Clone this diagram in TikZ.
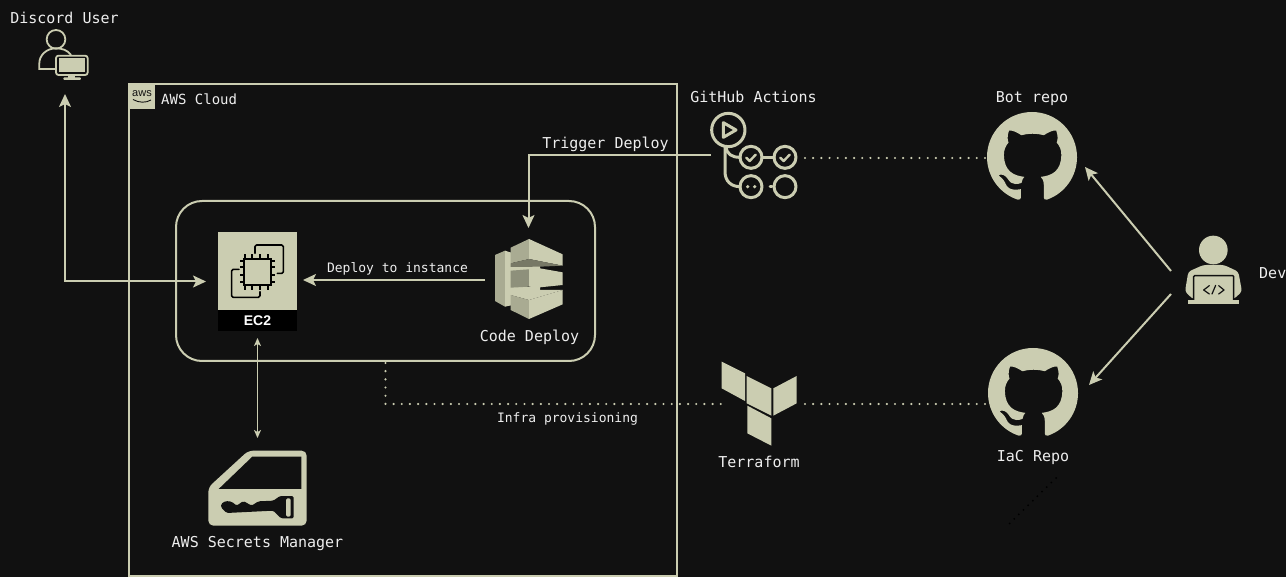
\documentclass[tikz,border=0pt]{standalone}
\usepackage{fontspec}
\setmainfont{DejaVu Sans Mono}
\newfontfamily\labelsans{Liberation Sans}
\usetikzlibrary{arrows.meta,svg.path,calc}
\definecolor{bgc}{HTML}{111111}
\definecolor{ink}{HTML}{CBCDB1}
\definecolor{midc}{HTML}{A9AB92}
\definecolor{darkc}{HTML}{777866}
\definecolor{sidec}{HTML}{8E907B}
\definecolor{txt}{HTML}{EEEEEE}
\newcommand{\ghfill}{\fill[ink] svg {M 8 0 C 3.58 0 0 3.58 0 8 c 0 3.54 2.29 6.53 5.47 7.59 0.4 0.07 0.55 -0.17 0.55 -0.38 0 -0.19 -0.01 -0.82 -0.01 -1.49 -2.01 0.37 -2.53 -0.49 -2.69 -0.94 -0.09 -0.23 -0.48 -0.94 -0.82 -1.13 -0.28 -0.15 -0.68 -0.52 -0.01 -0.53 0.63 -0.01 1.08 0.58 1.23 0.82 0.72 1.21 1.87 0.87 2.42 0.66 0.07 -0.52 0.28 -0.87 0.51 -1.07 -1.78 -0.2 -3.64 -0.89 -3.64 -3.95 0 -0.87 0.31 -1.59 0.82 -2.15 -0.08 -0.2 -0.36 -1.02 0.08 -2.12 0 0 0.67 -0.21 2.2 0.82 0.64 -0.18 1.32 -0.27 2 -0.27 0.68 0 1.36 0.09 2 0.27 1.53 -1.04 2.2 -0.82 2.2 -0.82 0.44 1.1 0.16 1.92 0.08 2.12 0.51 0.56 0.82 1.27 0.82 2.15 0 3.07 -1.87 3.75 -3.65 3.95 0.29 0.25 0.54 0.73 0.54 1.48 0 1.07 -0.01 1.93 -0.01 2.2 0 0.21 0.15 0.46 0.55 0.38 A 8.013 8.013 0 0 0 16 8 c 0 -4.42 -3.58 -8 -8 -8 z};}
\tikzset{
  x=1pt,y=-1pt,
  lab/.style={text=txt,inner sep=0pt,font=\fontsize{15}{15}\selectfont},
  smalllab/.style={text=txt,inner sep=0pt,font=\fontsize{13}{13}\selectfont},
  holder/.style={inner sep=0pt,outer sep=0pt,minimum width=#1},
  conn/.style={draw=ink,line width=2pt,-{Stealth[length=13pt,width=12pt,inset=3pt]}},
  conntwo/.style={draw=ink,line width=2pt,{Stealth[length=13pt,width=12pt,inset=3pt]}-{Stealth[length=13pt,width=12pt,inset=3pt]}},
  thinconn/.style={draw=ink,line width=1pt,{Stealth[length=8pt,width=7pt,inset=2pt]}-{Stealth[length=8pt,width=7pt,inset=2pt]}},
  dots/.style={draw=ink,line width=2.4pt,line cap=round,dash pattern=on 0pt off 8.18pt},
  zoomed/.style={shift={#1},scale=1/3},
  iconline/.style={draw=ink,line width=3pt,line cap=round,line join=round},
  darkline/.style={draw=bgc,line width=1.2pt,line cap=round,line join=round},
}
\begin{document}
\begin{tikzpicture}
\useasboundingbox (0,0) rectangle (1286,577);
\fill[bgc] (0,0) rectangle (1286,577);

% containers
\node[draw=ink,line width=2pt,minimum width=548pt,minimum height=492pt,inner sep=0pt] (cloud) at (403,330) {};
\node[draw=ink,line width=2pt,rounded corners=26pt,minimum width=419pt,minimum height=160pt,inner sep=0pt] (group) at (385.5,281) {};

% invisible holders for the icons
\node[holder=52pt,minimum height=50pt] (du) at (65,55) {};
\node[holder=79pt,minimum height=99pt] (ec2) at (257.5,281.5) {};
\node[holder=69pt,minimum height=84pt] (cd) at (528.5,280) {};
\node[holder=99pt,minimum height=75pt] (sm) at (257.5,488.5) {};
\node[holder=86pt,minimum height=86pt] (gha) at (754,155) {};
\node[holder=76pt,minimum height=84pt] (tf) at (759,404) {};
\node[holder=90pt,minimum height=90pt] (bot) at (1032,158) {};
\node[holder=90pt,minimum height=90pt] (iac) at (1033,393) {};
\node[holder=60pt,minimum height=68pt] (dev) at (1213,270) {};

% AWS tab
\fill[ink] (129,84) rectangle (155,109);
\node[inner sep=0pt,text=bgc,font=\labelsans\fontsize{11}{11}\selectfont] (awslogo) at (142,93.5) {aws};
\draw[bgc,line width=0.9pt] (133,99.5) .. controls (139,103) and (146,103) .. (151,100);

% Discord user icon
\begin{scope}[zoomed={(0,0)}]
  \draw[draw=ink,line width=1.8pt] (168,118) circle (28);
  \draw[draw=ink,line width=1.8pt] (168,207) -- (118,207) -- (118,190) .. controls (118,165) and (140,145) .. (168,145) .. controls (185,145) and (203,150) .. (213,165);
  \draw[draw=ink,line width=1.8pt,fill=bgc,rounded corners=2.5pt] (168,167) rectangle (263,225);
  \fill[ink] (177,175) rectangle (255,217);
  \fill[ink] (205,225) rectangle (226,233);
  \fill[ink,rounded corners=1pt] (190,232) rectangle (243,240);
\end{scope}

% EC2
\fill[ink] (218,232) rectangle (297,310);
\fill[black] (218,310) rectangle (297,331);
\begin{scope}[zoomed={(200,220)}]
  \draw[draw=black,line width=1.6pt,line join=round,line cap=round,rounded corners=1.5pt] (165,100) -- (165,75) -- (250,75) -- (250,160) -- (232,160);
  \draw[draw=black,line width=1.6pt,line join=round,line cap=round,rounded corners=1.5pt] (117,148) -- (95,148) -- (95,232) -- (180,232) -- (180,215);
  \draw[draw=black,line width=2pt,fill=ink] (132,117) rectangle (212,195);
  \foreach \p in {135,155,180,203}{
    \draw[draw=black,line width=1.8pt] (\p,103) -- (\p,117);
    \draw[draw=black,line width=1.8pt] (\p,195) -- (\p,209);
  }
  \foreach \p in {122,142,165,185}{
    \draw[draw=black,line width=1.8pt] (120,\p) -- (132,\p);
    \draw[draw=black,line width=1.8pt] (212,\p) -- (226,\p);
  }
\end{scope}
\node[inner sep=0pt,text=white,font=\labelsans\bfseries\fontsize{14}{14}\selectfont] (ec2lab) at (257.5,320.5) {EC2};

% CodeDeploy
\begin{scope}[zoomed={(490,235)}]
  \fill[midc] (15,60) -- (45,47) -- (45,215) -- (15,198) -- cycle;
  \fill[ink] (45,47) -- (64,53) -- (64,211) -- (45,215) -- cycle;
  \fill[ink] (60,88) -- (150,88) -- (150,102) -- (60,109) -- cycle;
  \fill[ink] (60,156) -- (150,155) -- (150,167) -- (60,182) -- cycle;
  \fill[midc] (62,38) -- (117,12) -- (117,72) -- (62,85) -- cycle;
  \fill[ink] (117,12) -- (218,58) -- (218,92) -- (117,72) -- cycle;
  \fill[darkc] (62,85) -- (117,72) -- (218,92) -- (150,95) -- (62,96) -- cycle;
  \fill[sidec] (62,107) -- (117,103) -- (117,155) -- (62,158) -- cycle;
  \fill[ink] (117,103) -- (150,100) -- (218,112) -- (218,150) -- (150,157) -- (117,155) -- cycle;
  \fill[ink] (62,180) -- (150,165) -- (218,165) -- (117,195) -- cycle;
  \fill[midc] (62,180) -- (117,195) -- (117,252) -- (62,225) -- cycle;
  \fill[ink] (117,195) -- (218,165) -- (218,208) -- (117,252) -- cycle;
\end{scope}

% Secrets Manager
\begin{scope}[zoomed={(190,430)}]
  \fill[ink,rounded corners=5pt]
    (55,172) -- (175,62) -- (350,62) -- (350,287) -- (55,287) -- cycle;
  \fill[bgc] (86,177) -- (187,80) -- (334,80) -- (334,177) -- cycle;
\end{scope}
\begin{scope}[zoomed={(205,490)}]
  \fill[bgc,rounded corners=1.5pt] (48,42) -- (62,33) -- (80,35) -- (95,47) -- (115,33) -- (140,47) -- (160,34) -- (205,32) -- (225,18) -- (266,18) -- (266,85) -- (228,85) -- (205,62) -- (65,69) -- (48,52) -- cycle;
  \fill[ink,rounded corners=1.5pt] (243,25) rectangle (257,80);
\end{scope}

% GitHub Actions
\begin{scope}[zoomed={(680,80)}]
  \draw[iconline] (145,150) circle (50);
  \draw[iconline] (130,128) -- (168,150) -- (130,172) -- cycle;
  \draw[iconline] (138,200) .. controls (140,222) and (155,232) .. (180,232);
  \draw[iconline] (135,200) -- (135,275) .. controls (135,305) and (155,320) .. (180,320);
  \draw[iconline] (213,232) circle (33);
  \draw[iconline] (315,232) circle (33);
  \draw[iconline] (213,320) circle (33);
  \draw[iconline] (315,320) circle (33);
  \draw[iconline] (246,232) -- (282,232);
  \draw[iconline] (270,320) -- (276,320);
  \draw[iconline,line width=2.4pt] (199,233) -- (209,243) -- (227,224);
  \draw[iconline,line width=2.4pt] (301,233) -- (311,243) -- (329,224);
  \fill[ink] (203,320) circle (5.5);
  \fill[ink] (224,320) circle (5.5);
\end{scope}

% Terraform
\begin{scope}[zoomed={(700,350)}]
  \fill[ink] (65,35) -- (135,70) -- (135,153) -- (65,115) -- cycle;
  \fill[ink] (140,78) -- (214,115) -- (214,197) -- (140,160) -- cycle;
  \fill[ink] (220,115) -- (290,78) -- (290,160) -- (220,197) -- cycle;
  \fill[ink] (142,167) -- (214,205) -- (214,287) -- (142,250) -- cycle;
\end{scope}

% GitHub marks
\begin{scope}[shift={(987,112)},xscale=5.625,yscale=-5.625]
  \ghfill
\end{scope}
\begin{scope}[shift={(988,348)},xscale=5.625,yscale=-5.625]
  \ghfill
\end{scope}

% Dev
\begin{scope}[zoomed={(970,90)}]
  \fill[ink] (730,480) circle (43);
  \fill[ink,rounded corners=3pt] (655,545) -- (700,525) -- (762,525) -- (805,545) -- (816,605) -- (790,628) -- (670,628) -- (645,605) -- cycle;
  \draw[draw=bgc,line width=1.4pt,fill=ink,rounded corners=1pt] (671,630) -- (671,557) -- (791,557) -- (791,630);
  \fill[ink] (655,630) rectangle (806,641);
  \draw[darkline] (718,587) -- (701,600) -- (718,612);
  \draw[darkline] (726,612) -- (737,586);
  \draw[darkline] (746,587) -- (762,600) -- (746,612);
\end{scope}

% labels
\node[lab] (lduser) at (64.5,18) {Discord User};
\node[lab,font=\fontsize{14}{14}\selectfont,anchor=west] (lcloud) at (161,99) {AWS Cloud};
\node[lab] (lgha) at (753.5,97) {GitHub Actions};
\node[lab] (ltrig) at (605.5,144) {Trigger Deploy};
\node[lab] (lbot) at (1032,99) {Bot repo};
\node[lab,anchor=west] (ldev) at (1259,273) {Dev};
\node[smalllab] (ldep) at (397.5,268.5) {Deploy to instance};
\node[lab] (lcd) at (529.5,337) {Code Deploy};
\node[smalllab] (linf) at (567.5,419) {Infra provisioning};
\node[lab] (ltf) at (759,462) {Terraform};
\node[lab] (liac) at (1033,457) {IaC Repo};
\node[lab] (lsm) at (257.5,544) {AWS Secrets Manager};

% connectors
\coordinate (dvA) at (1171,271);
\coordinate (dvB) at (1171,294);
\coordinate (botIn) at (1085,167);
\coordinate (iacIn) at (1089,385);
\coordinate (shA) at (1056,478);
\coordinate (shB) at (1009,524);
\draw[conntwo,shorten <=14pt,shorten >=12pt] (du.south) |- (ec2.west);
\draw[conn,shorten >=10pt] (gha.west) -| (cd.north);
\draw[conn,shorten <=9pt,shorten >=6pt] (cd.west) -- (cd.west -| ec2.east);
\draw[thinconn,shorten <=7pt,shorten >=13pt] (ec2.south) -- (sm.north);
\draw[conn] (dvA) -- (botIn);
\draw[conn] (dvB) -- (iacIn);
\draw[dots,shorten <=8pt] (gha.east |- bot.west) -- (bot.west);
\draw[dots,shorten <=1pt] (group.south) |- (tf.west);
\draw[dots,shorten <=8pt] (tf.east) -- (tf.east -| iac.west);
\draw[draw=black,line width=2pt,line cap=round,dash pattern=on 0pt off 6.5pt] (shA) -- (shB);
\end{tikzpicture}
\end{document}
